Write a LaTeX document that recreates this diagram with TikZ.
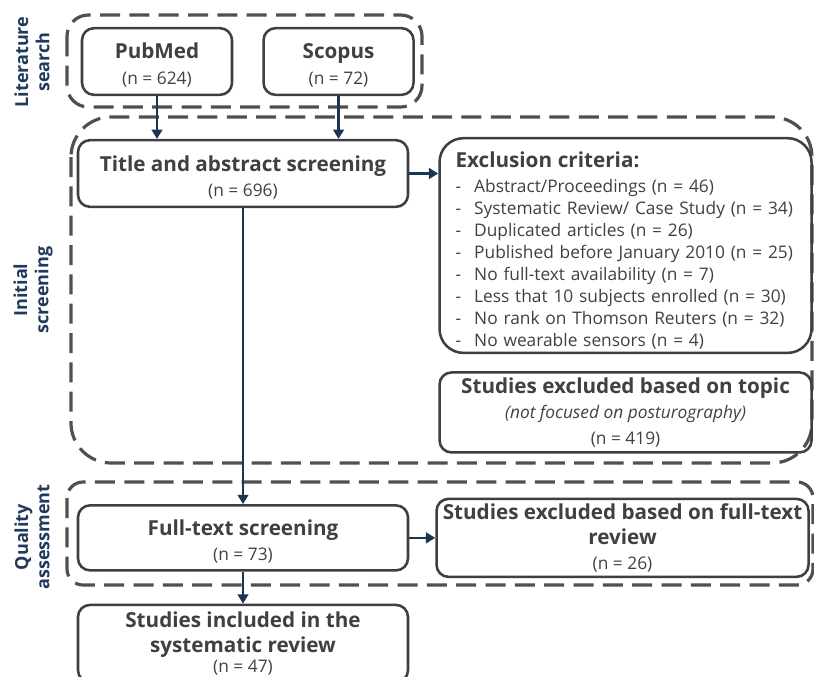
\documentclass[tikz,border=0pt]{standalone}
\usepackage{fontspec}
\setmainfont{Open Sans}
\usetikzlibrary{positioning,arrows.meta}
\definecolor{boxgray}{HTML}{3F3F3F}
\definecolor{dashgray}{HTML}{505050}
\definecolor{navy}{HTML}{1B3552}
\definecolor{labblue}{HTML}{203A5C}
\definecolor{txtgray}{HTML}{404040}
\newcommand{\hd}[1]{{\fontsize{15.5}{19}\selectfont\bfseries #1}}
\newcommand{\tstrut}{\rule{0pt}{17pt}}
\newcommand{\exitem}[1]{\makebox[14pt][l]{-}#1}
\tikzset{box/.style={draw=boxgray, line width=1.9pt, rounded corners=9pt, align=center, text=txtgray, font=\fontsize{13}{19}\selectfont, inner sep=3pt},
 group/.style={draw=dashgray, line width=2.4pt, dash pattern=on 15pt off 7pt},
 flow/.style={draw=navy, line width=1.8pt, -{Triangle[length=7pt,width=8pt]}},
 phase/.style={rotate=90, align=center, text=labblue, font=\fontsize{13.5}{16}\selectfont\bfseries}}

\begin{document}
\begin{tikzpicture}[x=0.75pt,y=-0.75pt]
\useasboundingbox (0,0) rectangle (814,676);
% dashed phase frames
\draw[group, rounded corners=16pt] (67,15) rectangle (422,107);
\draw[group, rounded corners=30pt] (71,117) rectangle (812,463);
\draw[group, rounded corners=12pt] (67,482) rectangle (813,585);

% phase labels
\node[phase] (litlab) at (32,62) {Literature\\search};
\node[phase] (scrlab) at (33,290) {Initial\\screening};
\node[phase] (qualab) at (32,537) {Quality\\assessment};

% boxes
\node[box, minimum width=112.5pt, minimum height=50pt] (pubmed) at (157,61.5) {\tstrut\hd{PubMed}\\(n = 624)};
\node[box, minimum width=112.5pt, minimum height=50pt, right=21.75pt of pubmed] (scopus) {\tstrut\hd{Scopus}\\(n = 72)};
\node[box, minimum width=247.5pt, minimum height=50pt] (title) at (243,173.5) {\rule{0pt}{18pt}\hd{Title and abstract screening}\\(n = 696)};
\node[box, rounded corners=18pt, minimum height=157.5pt, text width=255pt, inner xsep=12pt, align=left,
      font=\fontsize{13}{16.5}\selectfont, anchor=north west] (excl) at ([xshift=21.75pt,yshift=1.5pt]title.north east)
      {\rule{0pt}{19pt}{\fontsize{15.5}{19}\selectfont\bfseries Exclusion criteria:}\\[2pt]
       \exitem{Abstract/Proceedings (n = 46)}\\
       \exitem{Systematic Review/ Case Study (n = 34)}\\
       \exitem{Duplicated articles (n = 26)}\\
       \exitem{Published before January 2010 (n = 25)}\\
       \exitem{No full-text availability (n = 7)}\\
       \exitem{Less that 10 subjects enrolled (n = 30)}\\
       \exitem{No rank on Thomson Reuters (n = 32)}\\
       \exitem{No wearable sensors (n = 4)}};
\node[box, minimum width=279pt, minimum height=60pt, below=12.75pt of excl] (topic) {\hd{Studies excluded based on topic}\\\textit{(not focused on posturography)}\\(n = 419)};
\node[box, minimum width=247.5pt, minimum height=48.75pt, below=222pt of title] (fulltext) {\tstrut\hd{Full-text screening}\\(n = 73)};
\node[box, minimum width=279pt, minimum height=58.5pt, right=19.5pt of fulltext] (ftexcl) {\hd{Studies excluded based on full-text}\\\hd{review}\\(n = 26)};
\node[box, minimum width=247.5pt, minimum height=58pt, below=24pt of fulltext] (final) {\hd{Studies included in the}\\\hd{systematic review}\\[-4pt](n = 47)};

% connectors
\draw[flow] (pubmed.south) -- (pubmed.south |- title.north);
\draw[flow] (scopus.south) -- (scopus.south |- title.north);
\draw[flow] (title.east) -- (title.east -| excl.west);
\draw[flow] (title.south) -- (fulltext.north);
\draw[flow] (fulltext.east) -- (ftexcl.west);
\draw[flow] (fulltext.south) -- (final.north);
\end{tikzpicture}
\end{document}
